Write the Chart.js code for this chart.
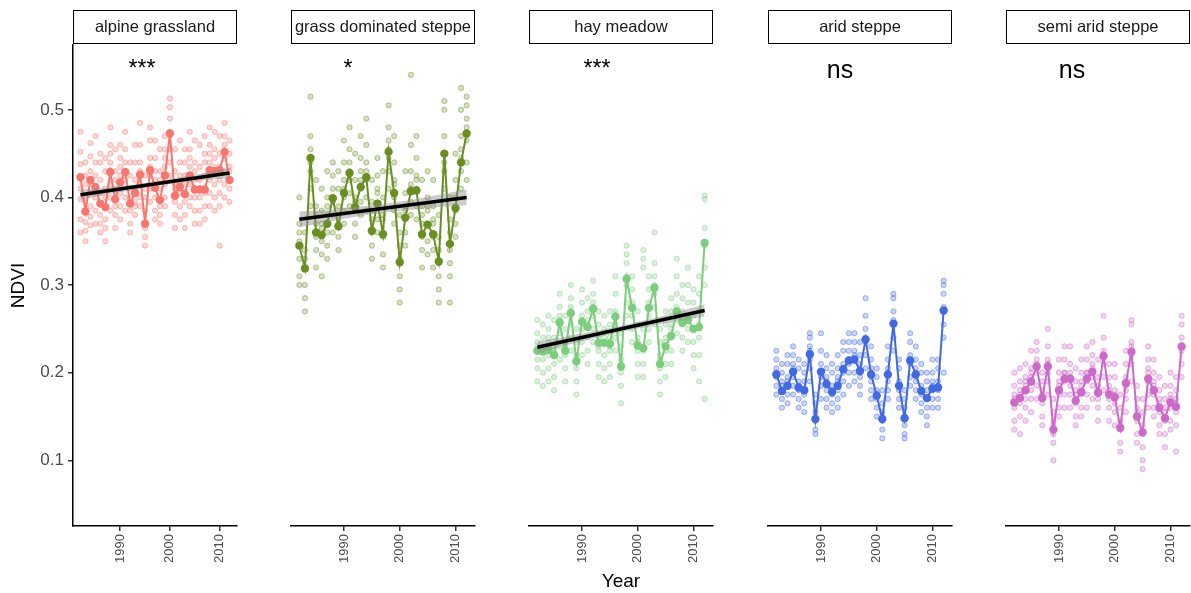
<!DOCTYPE html>
<html>
<head>
<meta charset="utf-8">
<script src="https://cdn.jsdelivr.net/npm/chart.js@4.4.0/dist/chart.umd.min.js"></script>
<style>
  body { margin: 0; background: #fff; font-family: "Liberation Sans", Arial, sans-serif; }
  #wrap { position: relative; width: 1191px; height: 593px; overflow: hidden; }
  canvas { position: absolute; top: 37px; }
  .strip { position: absolute; top: 10px; height: 34px; box-sizing: border-box; border: 1.5px solid #000;
           font-size: 16.5px; line-height: 31px; text-align: center; color: #1a1a1a; white-space: nowrap; overflow: hidden; }
  .sig { position: absolute; width: 80px; text-align: center; color: #000; line-height: 1; }
</style>
</head>
<body>
<div id="wrap"></div>
<script>
// facet names, colours and significance labels
const panels = ['alpine grassland', 'grass dominated steppe', 'hay meadow', 'arid steppe', 'semi arid steppe'];
const colors = ['#F8766D', '#6B8E23', '#7CCD7C', '#4169E1', '#CD69C9'];
const signif = ['***', '*', '***', 'ns', 'ns'];

const years = [1982, 1983, 1984, 1985, 1986, 1987, 1988, 1989, 1990, 1991, 1992, 1993, 1994, 1995, 1996, 1997,
  1998, 1999, 2000, 2001, 2002, 2003, 2004, 2005, 2006, 2007, 2008, 2009, 2010, 2011, 2012];
const xTicks = [1990, 2000, 2010];
const yTicks = [0.1, 0.2, 0.3, 0.4, 0.5];

// yearly mean NDVI per vegetation type
const meanAlpine = [0.423, 0.384, 0.420, 0.412, 0.393, 0.389, 0.429, 0.398, 0.417, 0.429, 0.393, 0.405, 0.426, 0.370, 0.431, 0.411,
  0.397, 0.425, 0.473, 0.402, 0.412, 0.404, 0.425, 0.409, 0.409, 0.409, 0.431, 0.430, 0.431, 0.452, 0.420];
const meanGrass = [0.345, 0.319, 0.445, 0.360, 0.357, 0.370, 0.399, 0.367, 0.405, 0.428, 0.389, 0.412, 0.423, 0.362, 0.393, 0.358,
  0.452, 0.405, 0.326, 0.377, 0.407, 0.408, 0.358, 0.369, 0.358, 0.327, 0.450, 0.347, 0.388, 0.440, 0.473];
const meanHay = [0.225, 0.224, 0.226, 0.220, 0.257, 0.225, 0.268, 0.213, 0.258, 0.252, 0.273, 0.234, 0.234, 0.233, 0.264, 0.207,
  0.307, 0.274, 0.231, 0.228, 0.274, 0.297, 0.210, 0.230, 0.242, 0.270, 0.257, 0.260, 0.250, 0.252, 0.348];
const meanArid = [0.198, 0.179, 0.185, 0.201, 0.183, 0.180, 0.221, 0.147, 0.201, 0.187, 0.178, 0.185, 0.204, 0.214, 0.215, 0.202,
  0.238, 0.198, 0.174, 0.147, 0.198, 0.256, 0.185, 0.148, 0.214, 0.198, 0.179, 0.171, 0.182, 0.183, 0.271];
const meanSemi = [0.166, 0.171, 0.180, 0.190, 0.207, 0.171, 0.207, 0.135, 0.180, 0.193, 0.193, 0.168, 0.178, 0.193, 0.201, 0.177,
  0.219, 0.175, 0.172, 0.137, 0.188, 0.224, 0.150, 0.132, 0.193, 0.180, 0.160, 0.148, 0.166, 0.161, 0.230];

// single site values per year (one row per year)
const siteAlpine = [
  [0.475, 0.452, 0.438, 0.41, 0.398, 0.375, 0.36], [0.44, 0.415, 0.395, 0.372, 0.362, 0.35, 0.425],
  [0.462, 0.447, 0.43, 0.405, 0.39, 0.378, 0.368], [0.47, 0.44, 0.425, 0.40, 0.385, 0.37, 0.41],
  [0.45, 0.42, 0.405, 0.38, 0.37, 0.36, 0.44], [0.445, 0.43, 0.40, 0.375, 0.365, 0.41, 0.35],
  [0.48, 0.46, 0.44, 0.415, 0.40, 0.385, 0.45], [0.455, 0.43, 0.41, 0.39, 0.38, 0.365, 0.42],
  [0.46, 0.445, 0.425, 0.405, 0.39, 0.435, 0.375], [0.475, 0.455, 0.44, 0.42, 0.40, 0.385, 0.43],
  [0.44, 0.425, 0.40, 0.385, 0.37, 0.36, 0.41], [0.46, 0.44, 0.42, 0.395, 0.38, 0.41, 0.39],
  [0.485, 0.46, 0.44, 0.415, 0.40, 0.43, 0.39], [0.425, 0.40, 0.385, 0.365, 0.355, 0.345, 0.41],
  [0.48, 0.465, 0.445, 0.425, 0.41, 0.395, 0.435], [0.465, 0.445, 0.42, 0.40, 0.385, 0.43, 0.375],
  [0.455, 0.43, 0.41, 0.39, 0.38, 0.37, 0.42], [0.47, 0.455, 0.435, 0.415, 0.40, 0.445, 0.39],
  [0.513, 0.503, 0.49, 0.475, 0.455, 0.44, 0.425], [0.455, 0.43, 0.415, 0.395, 0.38, 0.365, 0.41],
  [0.465, 0.44, 0.425, 0.405, 0.39, 0.375, 0.415], [0.455, 0.44, 0.415, 0.395, 0.38, 0.365, 0.425],
  [0.475, 0.455, 0.435, 0.415, 0.40, 0.39, 0.445], [0.465, 0.44, 0.42, 0.40, 0.385, 0.37, 0.43],
  [0.46, 0.435, 0.42, 0.40, 0.385, 0.37, 0.41], [0.47, 0.45, 0.425, 0.405, 0.39, 0.375, 0.44],
  [0.48, 0.46, 0.44, 0.42, 0.405, 0.39, 0.45], [0.475, 0.455, 0.435, 0.415, 0.40, 0.385, 0.445],
  [0.47, 0.45, 0.435, 0.42, 0.405, 0.39, 0.345], [0.485, 0.47, 0.46, 0.445, 0.43, 0.415, 0.40],
  [0.465, 0.45, 0.435, 0.42, 0.41, 0.395, 0.43]];
const siteGrass = [
  [0.40, 0.37, 0.35, 0.33, 0.31, 0.30, 0.36], [0.36, 0.34, 0.32, 0.30, 0.285, 0.27, 0.33],
  [0.515, 0.47, 0.455, 0.43, 0.41, 0.39, 0.44], [0.42, 0.39, 0.37, 0.355, 0.34, 0.32, 0.38],
  [0.41, 0.385, 0.365, 0.35, 0.335, 0.31, 0.37], [0.43, 0.40, 0.38, 0.36, 0.345, 0.33, 0.39],
  [0.44, 0.425, 0.41, 0.395, 0.38, 0.36, 0.40], [0.43, 0.41, 0.39, 0.37, 0.355, 0.34, 0.38],
  [0.465, 0.44, 0.42, 0.40, 0.385, 0.37, 0.41], [0.48, 0.455, 0.44, 0.42, 0.405, 0.39, 0.43],
  [0.45, 0.42, 0.40, 0.385, 0.37, 0.355, 0.395], [0.47, 0.445, 0.43, 0.41, 0.395, 0.38, 0.42],
  [0.49, 0.46, 0.44, 0.42, 0.40, 0.385, 0.43], [0.42, 0.395, 0.375, 0.36, 0.345, 0.33, 0.385],
  [0.445, 0.425, 0.405, 0.39, 0.375, 0.36, 0.41], [0.43, 0.40, 0.375, 0.355, 0.335, 0.32, 0.38],
  [0.505, 0.48, 0.465, 0.445, 0.43, 0.41, 0.455], [0.47, 0.44, 0.42, 0.40, 0.385, 0.37, 0.415],
  [0.38, 0.36, 0.345, 0.33, 0.31, 0.295, 0.28], [0.43, 0.405, 0.39, 0.375, 0.36, 0.345, 0.385],
  [0.54, 0.46, 0.43, 0.41, 0.395, 0.38, 0.415], [0.47, 0.445, 0.425, 0.41, 0.39, 0.375, 0.42],
  [0.42, 0.39, 0.37, 0.355, 0.34, 0.32, 0.38], [0.43, 0.40, 0.385, 0.37, 0.35, 0.335, 0.39],
  [0.42, 0.39, 0.37, 0.355, 0.34, 0.32, 0.375], [0.38, 0.355, 0.34, 0.325, 0.31, 0.295, 0.28],
  [0.51, 0.50, 0.47, 0.45, 0.43, 0.41, 0.44], [0.40, 0.375, 0.36, 0.34, 0.325, 0.31, 0.28],
  [0.45, 0.42, 0.40, 0.385, 0.37, 0.355, 0.39], [0.525, 0.50, 0.47, 0.445, 0.43, 0.41, 0.455],
  [0.515, 0.505, 0.49, 0.48, 0.465, 0.44, 0.42]];
const siteHay = [
  [0.26, 0.245, 0.23, 0.215, 0.205, 0.19, 0.235], [0.255, 0.24, 0.23, 0.215, 0.20, 0.185, 0.225],
  [0.265, 0.25, 0.235, 0.22, 0.205, 0.19, 0.24], [0.26, 0.24, 0.225, 0.21, 0.195, 0.18, 0.23],
  [0.29, 0.275, 0.26, 0.245, 0.23, 0.215, 0.265], [0.265, 0.25, 0.235, 0.22, 0.205, 0.19, 0.23],
  [0.30, 0.285, 0.27, 0.255, 0.24, 0.225, 0.275], [0.25, 0.235, 0.22, 0.205, 0.19, 0.175, 0.215],
  [0.295, 0.28, 0.265, 0.25, 0.235, 0.22, 0.26], [0.285, 0.27, 0.255, 0.24, 0.225, 0.21, 0.26],
  [0.305, 0.29, 0.28, 0.265, 0.25, 0.235, 0.275], [0.27, 0.255, 0.24, 0.225, 0.21, 0.195, 0.23],
  [0.265, 0.25, 0.235, 0.22, 0.205, 0.19, 0.24], [0.27, 0.255, 0.24, 0.225, 0.21, 0.195, 0.23],
  [0.31, 0.29, 0.27, 0.255, 0.24, 0.225, 0.265], [0.245, 0.23, 0.215, 0.20, 0.185, 0.165, 0.21],
  [0.345, 0.335, 0.325, 0.30, 0.28, 0.265, 0.31], [0.31, 0.295, 0.28, 0.265, 0.25, 0.235, 0.275],
  [0.27, 0.255, 0.24, 0.225, 0.21, 0.195, 0.235], [0.34, 0.33, 0.32, 0.25, 0.225, 0.21, 0.195],
  [0.31, 0.295, 0.28, 0.265, 0.25, 0.235, 0.275], [0.36, 0.325, 0.31, 0.29, 0.275, 0.255, 0.30],
  [0.25, 0.235, 0.22, 0.205, 0.19, 0.175, 0.215], [0.27, 0.255, 0.24, 0.225, 0.21, 0.195, 0.235],
  [0.285, 0.27, 0.255, 0.24, 0.225, 0.21, 0.25], [0.33, 0.31, 0.29, 0.275, 0.26, 0.245, 0.27],
  [0.30, 0.285, 0.27, 0.255, 0.24, 0.225, 0.26], [0.32, 0.30, 0.28, 0.265, 0.25, 0.235, 0.26],
  [0.295, 0.28, 0.265, 0.25, 0.235, 0.22, 0.205], [0.31, 0.29, 0.27, 0.255, 0.24, 0.22, 0.19],
  [0.402, 0.398, 0.365, 0.345, 0.32, 0.30, 0.17]];
const siteArid = [
  [0.225, 0.215, 0.205, 0.195, 0.185, 0.175, 0.20], [0.21, 0.20, 0.19, 0.18, 0.17, 0.16, 0.185],
  [0.22, 0.21, 0.195, 0.185, 0.175, 0.165, 0.19], [0.23, 0.22, 0.21, 0.195, 0.185, 0.175, 0.205],
  [0.215, 0.205, 0.19, 0.18, 0.17, 0.16, 0.185], [0.21, 0.20, 0.19, 0.175, 0.165, 0.155, 0.18],
  [0.245, 0.24, 0.23, 0.215, 0.205, 0.19, 0.225], [0.175, 0.165, 0.155, 0.145, 0.135, 0.13, 0.15],
  [0.245, 0.225, 0.21, 0.195, 0.185, 0.17, 0.20], [0.22, 0.205, 0.195, 0.18, 0.17, 0.16, 0.19],
  [0.21, 0.20, 0.185, 0.175, 0.165, 0.155, 0.18], [0.22, 0.205, 0.195, 0.18, 0.17, 0.16, 0.19],
  [0.235, 0.225, 0.21, 0.20, 0.19, 0.175, 0.205], [0.245, 0.235, 0.225, 0.21, 0.20, 0.185, 0.215],
  [0.245, 0.235, 0.225, 0.215, 0.20, 0.19, 0.22], [0.235, 0.22, 0.21, 0.195, 0.185, 0.175, 0.20],
  [0.285, 0.265, 0.25, 0.235, 0.22, 0.205, 0.24], [0.23, 0.215, 0.205, 0.19, 0.18, 0.17, 0.20],
  [0.205, 0.195, 0.18, 0.17, 0.16, 0.15, 0.175], [0.18, 0.165, 0.155, 0.145, 0.135, 0.125, 0.15],
  [0.23, 0.215, 0.205, 0.19, 0.18, 0.17, 0.20], [0.29, 0.285, 0.27, 0.255, 0.24, 0.225, 0.26],
  [0.215, 0.205, 0.19, 0.18, 0.17, 0.16, 0.185], [0.18, 0.17, 0.16, 0.15, 0.14, 0.13, 0.125],
  [0.245, 0.235, 0.22, 0.21, 0.195, 0.185, 0.215], [0.23, 0.215, 0.205, 0.19, 0.18, 0.17, 0.20],
  [0.21, 0.20, 0.185, 0.175, 0.165, 0.155, 0.18], [0.20, 0.19, 0.18, 0.17, 0.16, 0.15, 0.14],
  [0.215, 0.20, 0.19, 0.18, 0.17, 0.16, 0.185], [0.215, 0.205, 0.19, 0.18, 0.17, 0.16, 0.185],
  [0.305, 0.30, 0.29, 0.275, 0.255, 0.24, 0.20]];
const siteSemi = [
  [0.20, 0.185, 0.17, 0.16, 0.145, 0.135, 0.175], [0.205, 0.19, 0.175, 0.165, 0.15, 0.13, 0.18],
  [0.21, 0.195, 0.185, 0.17, 0.16, 0.145, 0.19], [0.225, 0.205, 0.195, 0.18, 0.17, 0.155, 0.20],
  [0.235, 0.225, 0.21, 0.20, 0.185, 0.17, 0.215], [0.20, 0.19, 0.175, 0.165, 0.15, 0.14, 0.18],
  [0.25, 0.23, 0.215, 0.20, 0.19, 0.175, 0.21], [0.17, 0.155, 0.14, 0.13, 0.12, 0.10, 0.145],
  [0.215, 0.20, 0.185, 0.175, 0.16, 0.15, 0.19], [0.23, 0.215, 0.20, 0.19, 0.175, 0.16, 0.20],
  [0.23, 0.21, 0.195, 0.185, 0.175, 0.16, 0.20], [0.205, 0.19, 0.175, 0.165, 0.15, 0.14, 0.18],
  [0.215, 0.20, 0.185, 0.175, 0.16, 0.15, 0.19], [0.23, 0.215, 0.20, 0.19, 0.175, 0.16, 0.20],
  [0.235, 0.22, 0.205, 0.195, 0.185, 0.17, 0.21], [0.215, 0.195, 0.185, 0.17, 0.16, 0.145, 0.18],
  [0.265, 0.24, 0.225, 0.21, 0.195, 0.18, 0.22], [0.21, 0.195, 0.18, 0.17, 0.16, 0.145, 0.185],
  [0.21, 0.195, 0.18, 0.165, 0.155, 0.14, 0.175], [0.175, 0.16, 0.145, 0.135, 0.12, 0.11, 0.14],
  [0.225, 0.21, 0.195, 0.18, 0.17, 0.155, 0.19], [0.26, 0.255, 0.235, 0.22, 0.21, 0.19, 0.23],
  [0.185, 0.17, 0.155, 0.145, 0.13, 0.12, 0.16], [0.17, 0.155, 0.14, 0.13, 0.115, 0.09, 0.10],
  [0.23, 0.215, 0.20, 0.19, 0.175, 0.16, 0.205], [0.215, 0.20, 0.185, 0.175, 0.16, 0.15, 0.19],
  [0.195, 0.18, 0.165, 0.155, 0.14, 0.13, 0.17], [0.185, 0.17, 0.155, 0.145, 0.13, 0.115, 0.16],
  [0.20, 0.185, 0.17, 0.16, 0.145, 0.135, 0.175], [0.195, 0.18, 0.165, 0.155, 0.14, 0.11, 0.17],
  [0.265, 0.255, 0.24, 0.225, 0.21, 0.195, 0.23]];

// linear trend (first / last year) and its confidence band, only for the significant panels
const trendYears = [1982, 2012];
const trendAlpine = [0.403, 0.428];
const trendGrass = [0.375, 0.400];
const trendHay = [0.229, 0.271];
const bandYears = [1982, 1987, 1992, 1997, 2002, 2007, 2012];
const bandHiAlpine = [0.409, 0.411, 0.414, 0.418, 0.423, 0.428, 0.434];
const bandLoAlpine = [0.397, 0.403, 0.408, 0.413, 0.417, 0.420, 0.422];
const bandHiGrass = [0.384, 0.386, 0.389, 0.3925, 0.397, 0.403, 0.409];
const bandLoGrass = [0.366, 0.372, 0.378, 0.3825, 0.386, 0.389, 0.391];
const bandHiHay = [0.236, 0.241, 0.247, 0.2535, 0.261, 0.269, 0.278];
const bandLoHay = [0.222, 0.231, 0.239, 0.2465, 0.253, 0.259, 0.264];

const means = [meanAlpine, meanGrass, meanHay, meanArid, meanSemi];
const sites = [siteAlpine, siteGrass, siteHay, siteArid, siteSemi];
const trends = [trendAlpine, trendGrass, trendHay, null, null];
const bandsHi = [bandHiAlpine, bandHiGrass, bandHiHay, null, null];
const bandsLo = [bandLoAlpine, bandLoGrass, bandLoHay, null, null];

// panel boxes on the page: plot area left / right
const areaLeft = [73, 291, 529, 768, 1006];
const areaRight = [237, 475, 713, 952, 1190];
const sigX = [142, 348, 597, 840, 1072];
const PAD = 8; // outer padding so chart.js point overflow doesn't shrink the plot area

function rgba(hex, a) {
  const n = parseInt(hex.slice(1), 16);
  return `rgba(${n >> 16},${(n >> 8) & 255},${n & 255},${a})`;
}

const wrap = document.getElementById('wrap');

panels.forEach((name, i) => {
  const first = i === 0;
  const canvasLeft = (first ? 0 : areaLeft[i]) - PAD;
  const canvasWidth = areaRight[i] - canvasLeft + PAD;

  const canvas = document.createElement('canvas');
  canvas.width = canvasWidth;
  canvas.height = PAD + 481 + 67 + PAD;
  canvas.style.left = canvasLeft + 'px';
  wrap.appendChild(canvas);

  // facet strip
  const strip = document.createElement('div');
  strip.className = 'strip';
  strip.style.left = areaLeft[i] + 'px';
  strip.style.width = (areaRight[i] - areaLeft[i]) + 'px';
  strip.textContent = name;
  wrap.appendChild(strip);

  const sig = document.createElement('div');
  sig.className = 'sig';
  sig.textContent = signif[i];
  sig.style.left = (sigX[i] - 40) + 'px';
  if (signif[i] === 'ns') { sig.style.fontSize = '25px'; sig.style.top = '57px'; }
  else { sig.style.fontSize = '23px'; sig.style.top = '57px'; }
  wrap.appendChild(sig);

  const c = colors[i];
  const scatter = [];
  sites[i].forEach((row, k) => row.forEach(v => scatter.push({ x: years[k], y: v })));

  const datasets = [];
  if (trends[i]) {
    datasets.push({
      type: 'line', order: 0,
      data: trendYears.map((x, k) => ({ x, y: trends[i][k] })),
      borderColor: '#000', borderWidth: 3.5, pointRadius: 0, fill: false
    });
    datasets.push({
      type: 'line', order: 1,
      data: bandYears.map((x, k) => ({ x, y: bandsHi[i][k] })),
      borderWidth: 0, pointRadius: 0, fill: '+1', backgroundColor: 'rgba(140,140,140,0.45)'
    });
    datasets.push({
      type: 'line', order: 1,
      data: bandYears.map((x, k) => ({ x, y: bandsLo[i][k] })),
      borderWidth: 0, pointRadius: 0, fill: false
    });
  }
  datasets.push({
    type: 'line', order: 2,
    data: years.map((x, k) => ({ x, y: means[i][k] })),
    borderColor: c, borderWidth: 2, pointRadius: 4.2, pointBackgroundColor: c,
    pointBorderWidth: 0, fill: false, clip: false
  });
  datasets.push({
    type: 'scatter', order: 3,
    data: scatter,
    pointRadius: 2.6, backgroundColor: rgba(c, 0.28), borderColor: rgba(c, 0.45),
    borderWidth: 1, clip: false
  });

  new Chart(canvas, {
    data: { datasets },
    options: {
      responsive: false,
      animation: false,
      layout: { padding: PAD },
      plugins: { legend: { display: false }, tooltip: { enabled: false } },
      scales: {
        x: {
          type: 'linear', min: 1980.5, max: 2013.5,
          afterBuildTicks: s => { s.ticks = xTicks.map(v => ({ value: v })); },
          afterFit: s => { s.height = 67; s.paddingLeft = 0; s.paddingRight = 0; },
          ticks: {
            color: '#4D4D4D', font: { family: 'Liberation Sans', size: 13 },
            minRotation: 90, maxRotation: 90, autoSkip: false, padding: 3,
            callback: v => String(v)
          },
          grid: { drawOnChartArea: false, drawTicks: true, tickLength: 5, color: '#333', lineWidth: 1.5 },
          border: { display: true, color: '#000', width: 1.5 },
          title: {
            display: i === 2, text: 'Year', color: '#000',
            font: { family: 'Liberation Sans', size: 19 }, padding: { top: 0, bottom: 0 }
          }
        },
        y: {
          type: 'linear', min: 0.025, max: 0.574,
          display: first,
          afterBuildTicks: s => { s.ticks = yTicks.map(v => ({ value: v })); },
          afterFit: s => { s.width = first ? 73 : 0; s.paddingTop = 0; s.paddingBottom = 0; },
          ticks: {
            color: '#4D4D4D', font: { family: 'Liberation Sans', size: 17 }, padding: 4,
            callback: v => v.toFixed(1)
          },
          grid: { drawOnChartArea: false, drawTicks: true, tickLength: 5, color: '#333', lineWidth: 1.5 },
          border: { display: true, color: '#000', width: 1.5 },
          title: {
            display: true, text: 'NDVI', color: '#000',
            font: { family: 'Liberation Sans', size: 19 }, padding: { top: 7, bottom: 0 }
          }
        }
      }
    }
  });
});
</script>
</body>
</html>
